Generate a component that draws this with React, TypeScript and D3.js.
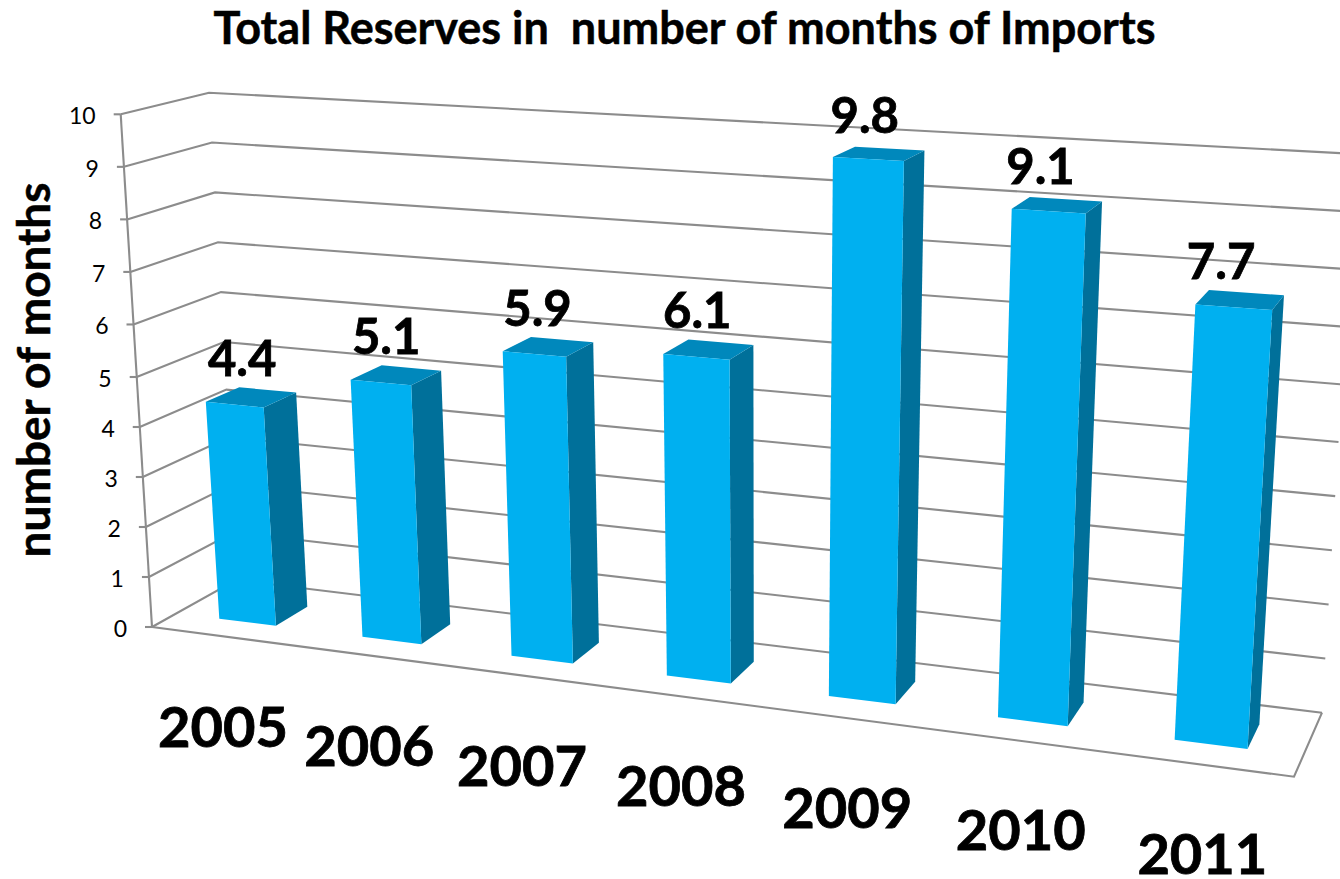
import React from "react";
import * as d3 from "d3";

const years = ["2005", "2006", "2007", "2008", "2009", "2010", "2011"];
const reserves = [4.4, 5.1, 5.9, 6.1, 9.8, 9.1, 7.7];
const valueLabels = ["4.4", "5.1", "5.9", "6.1", "9.8", "9.1", "7.7"];
const tickValues = [0, 1, 2, 3, 4, 5, 6, 7, 8, 9, 10];
const chartTitle = "Total Reserves in  number of months of Imports";
const axisTitle = "number of months";

const W = 1340;
const H = 879;
const FONT = "Lato, 'Open Sans', sans-serif";
const FRONT = "#00b0f0";
const SIDE = "#00709a";
const TOP = "#0088bc";
const GRID = "#8c8c8c";
const LINE_W = 2.1;

// category index -> position along the chart's width
const uScale = d3.scalePoint<string>().domain(years).range([0, 6]);
const BAR_W = 0.4;

// Projective camera: (u along categories, v value, z depth) -> screen
function project(u: number, v: number, z: number): [number, number] {
  const w = 1 - 0.01977 * u - 0.0055 * v + 0.0219 * z;
  return [
    (136 * u - 4.2 * v + 37.9 * z + 219.3) / w,
    (5.54 * u - 51.5 * v - 5.7 * z + 618.7) / w,
  ];
}

// wall edges (value -> screen), three stops because of perspective
const stops = [0, 5, 10];
const frontX = d3.scaleLinear().domain(stops).range([152, 136.7, 120.7]);
const frontY = d3.scaleLinear().domain(stops).range([627, 377, 114.3]);
const backX = d3.scaleLinear().domain(stops).range([236, 224, 209]);
const backY = d3.scaleLinear().domain(stops).range([580, 342, 92.7]);
const rightX = d3.scaleLinear().domain(stops).range([1322, 1338.5, 1356]);
const rightY = d3.scaleLinear().domain(stops).range([712.7, 442, 154]);
const floorCorner: [number, number] = [1294, 776.7];

// horizontal nudge of the value labels relative to the bar's front face
const labelShift = d3.scaleLinear().domain([0, 3, 6]).range([7.5, 1, -12.5]);

const line = d3.line();
const closed = (pts: [number, number][]) => line(pts) + "Z";

export default function App() {
  return (
    <svg
      width={W}
      height={H}
      viewBox={`0 0 ${W} ${H}`}
      style={{ position: "absolute", left: 0, top: 0, background: "#fff" }}
    >
      {tickValues.map((t) => (
        <path
          key={t}
          d={
            line([
              [frontX(t), frontY(t)],
              [backX(t), backY(t)],
              [rightX(t), rightY(t)],
            ])!
          }
          fill="none"
          stroke={GRID}
          strokeWidth={LINE_W}
        />
      ))}
      <path
        d={
          line([
            [frontX(0), frontY(0)],
            floorCorner,
            [rightX(0), rightY(0)],
          ])!
        }
        fill="none"
        stroke={GRID}
        strokeWidth={LINE_W}
      />
      <path
        d={line([[frontX(0), frontY(0)], [frontX(10), frontY(10)]])!}
        fill="none"
        stroke={GRID}
        strokeWidth={LINE_W}
      />
      {tickValues.map((t) => (
        <g key={t}>
          <path
            d={line([[frontX(t) - 7, frontY(t)], [frontX(t), frontY(t)]])!}
            stroke={GRID}
            strokeWidth={LINE_W}
          />
          <text
            x={frontX(t) - 25}
            y={frontY(t) + 10}
            textAnchor="end"
            fontFamily={FONT}
            fontSize={23}
            fill="#000"
          >
            {t}
          </text>
        </g>
      ))}

      {years.map((y, i) => {
        const u0 = uScale(y)!;
        const u1 = u0 + BAR_W;
        const v = reserves[i];
        return (
          <g key={y}>
            <path
              d={closed([project(u1, 0, 0), project(u1, v, 0), project(u1, v, 1), project(u1, 0, 1)])}
              fill={SIDE}
            />
            <path
              d={closed([project(u0, v, 0), project(u1, v, 0), project(u1, v, 1), project(u0, v, 1)])}
              fill={TOP}
            />
            <path
              d={closed([project(u0, 0, 0), project(u1, 0, 0), project(u1, v, 0), project(u0, v, 0)])}
              fill={FRONT}
            />
          </g>
        );
      })}

      {years.map((y, i) => {
        const u = uScale(y)!;
        const [x] = project(u + BAR_W / 2, reserves[i], 0);
        const [, yy] = project(u + BAR_W / 2, reserves[i], 0.5);
        return (
          <text
            key={y}
            x={x + labelShift(u)}
            y={yy - 21}
            textAnchor="middle"
            fontFamily={FONT}
            fontWeight={700}
            fontSize={49}
            stroke="#000"
            strokeWidth={0.8}
            fill="#000"
          >
            {valueLabels[i]}
          </text>
        );
      })}

      {years.map((y) => {
        const [x, yy] = project(uScale(y)! + BAR_W / 2, 0, -0.8);
        return (
          <text
            key={y}
            x={x + 2}
            y={yy + 109}
            textAnchor="middle"
            fontFamily={FONT}
            fontWeight={700}
            fontSize={56}
            stroke="#000"
            strokeWidth={0.8}
            fill="#000"
          >
            {y}
          </text>
        );
      })}

      <text
        x={684.5}
        y={44}
        textAnchor="middle"
        fontFamily={FONT}
        fontWeight={700}
        fontSize={45}
        stroke="#000"
        strokeWidth={0.5}
        fill="#000"
        style={{ whiteSpace: "pre" }}
      >
        {chartTitle}
      </text>
      <text
        transform="translate(50,370) rotate(-90)"
        textAnchor="middle"
        fontFamily={FONT}
        fontWeight={700}
        fontSize={46}
        stroke="#000"
        strokeWidth={0.5}
        fill="#000"
      >
        {axisTitle}
      </text>
    </svg>
  );
}
